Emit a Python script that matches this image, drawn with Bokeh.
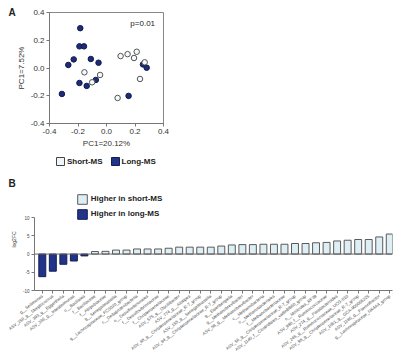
from bokeh.plotting import figure
from bokeh.models import (Legend, LegendItem, Label, Span, Range1d,
                          FixedTicker, NumeralTickFormatter)
from bokeh.embed import file_html
from bokeh.resources import INLINE

FONT = "Liberation Sans"

# ---------------- Panel A data (PCoA) ----------------
long_x = [-0.184, -0.190, -0.158, -0.230, -0.268, -0.110, -0.056, -0.190, -0.075, -0.139, -0.313, 0.155, 0.256, 0.282]
long_y = [0.287, 0.156, 0.156, 0.062, 0.022, 0.065, 0.038, -0.108, -0.086, -0.129, -0.187, -0.201, 0.026, 0.002]
short_x = [-0.155, -0.045, -0.101, 0.099, 0.148, 0.212, 0.193, 0.268, 0.235, 0.078]
short_y = [-0.031, -0.050, -0.103, 0.086, 0.100, 0.117, 0.072, 0.041, -0.079, -0.216]
pca_ticks = [-0.4, -0.2, 0.0, 0.2, 0.4]
groups = ["Short-MS", "Long-MS"]

# ---------------- Panel B data (log2FC) ----------------
taxa = [
    "g__Sellimonas", "ASV_250_g__Streptococcus", "ASV_393_g__Eggerthella",
    "ASV_336_g__Intestinimonas", "o__Bacillales", "f__Bacillaceae", "f__Atopobiaceae",
    "g__Senegalimassilia", "g__Lachnospiraceae_FCS020_group", "c__Deltaproteobacteria",
    "o__Desulfovibrionales", "f__Desulfovibrionaceae", "f__Christensenellaceae",
    "ASV_575_g__Oscillibacter", "ASV_774_g__Alistipes",
    "ASV_88_g__Christensenellaceae_R-7_group", "ASV_155_g__Senegalimassilia",
    "ASV_84_g__Christensenellaceae_R-7_group", "g__Eisenbergiella",
    "g__Methanobrevibacter", "ASV_58_g__Methanobrevibacter", "c__Methanobacteria",
    "o__Methanobacteriales", "f__Methanobacteriaceae",
    "ASV_56_g__Christensenellaceae_R-7_group", "ASV_1140_f__Clostridiales_vadinBB60_group",
    "o__Mollicutes_RF39", "ASV_990_f__Ruminococcaceae", "ASV_274_g__Parabacteroides",
    "ASV_245_g__Ruminococcaceae_UCG-010", "ASV_98_g__Christensenellaceae_R-7_group",
    "ASV_1061_g__GCA-900066225", "ASV_1186_g__Flavonifractor",
    "g__Lachnospiraceae_NK4A4_group",
]
log2fc = [-6.2, -4.7, -2.8, -1.9, -0.5,
          0.7, 0.75, 1.1, 1.1, 1.4, 1.4, 1.4, 1.6, 1.9, 1.9, 1.9, 1.9,
          2.2, 2.5, 2.6, 2.6, 2.7, 2.7, 2.7, 2.9, 2.9, 3.1, 3.2, 3.6, 3.8,
          4.0, 4.0, 4.7, 5.5]
fc_ticks = [-10, -5, 0, 5, 10]

NAVY = "#22348a"
NAVY_LINE = "#141e52"
LIGHT = "#ddeef4"
LIGHT_LINE = "#5a5a5a"
AXIS = "#777777"
TXT = "#333333"


def style_axis(ax, size, color=TXT):
    ax.axis_line_color = AXIS
    ax.major_tick_line_color = AXIS
    ax.major_tick_out = 3
    ax.major_tick_in = 0
    ax.minor_tick_line_color = None
    ax.major_label_text_font = FONT
    ax.major_label_text_font_size = size
    ax.major_label_text_color = color
    ax.major_label_standoff = 2
    ax.axis_label_text_font = FONT
    ax.axis_label_text_font_style = "normal"
    ax.axis_label_text_color = TXT


# ---------------- Panel A ----------------
pa = figure(width=400, height=150, output_backend="svg", toolbar_location=None,
            x_range=Range1d(-0.4, 0.4), y_range=Range1d(-0.4, 0.4),
            min_border_left=49, min_border_right=237, min_border_top=12,
            min_border_bottom=27)
pa.grid.visible = False
pa.outline_line_color = "#888888"
for ax in (pa.xaxis[0], pa.yaxis[0]):
    style_axis(ax, "8px")
    ax.ticker = FixedTicker(ticks=pca_ticks)
    ax.formatter = NumeralTickFormatter(format="0.0")
    ax.axis_label_text_font_size = "8px"
    ax.axis_label_standoff = 2
pa.xaxis.axis_label = "PC1=20.12%"
pa.yaxis.axis_label = "PC1=7.52%"

pa.scatter(long_x, long_y, size=5.5, fill_color="#1d2c78", line_color="#101a4a", line_width=1)
pa.scatter(short_x, short_y, size=5.5, fill_color="#f4f9fb", line_color="#555555", line_width=1)

pa.add_layout(Label(x=0.254, y=0.321, text="p=0.01", text_font=FONT, text_font_size="8px",
                    text_align="center", text_baseline="middle", text_color="#222222"))
pa.add_layout(Label(x=-41, y=0, x_units="screen", y_units="screen", text="A",
                    text_font=FONT, text_font_size="10px", text_font_style="bold",
                    text_baseline="middle", text_align="left", text_color="#222222"),
              "above")

# ---------------- Legend strip for panel A ----------------
pl = figure(width=400, height=26, output_backend="svg", toolbar_location=None,
            x_range=Range1d(0, 1), y_range=Range1d(0, 1),
            x_axis_type=None, y_axis_type=None,
            min_border_left=0, min_border_right=0, min_border_top=0, min_border_bottom=0)
pl.grid.visible = False
pl.outline_line_color = None
# hidden swatch renderers (only used to draw the square legend keys)
la1 = pl.quad(left=[0], right=[1], top=[1], bottom=[0], fill_color="#eef6f9", line_color="#444444")
la2 = pl.quad(left=[0], right=[1], top=[1], bottom=[0], fill_color=NAVY, line_color=NAVY_LINE)
la1.visible = False
la2.visible = False
leg_a = Legend(items=[LegendItem(label=groups[0], renderers=[la1]),
                      LegendItem(label=groups[1], renderers=[la2])],
               orientation="horizontal", location=(55, 10), padding=0, margin=0,
               spacing=7, glyph_width=10, glyph_height=10, label_height=10,
               label_standoff=2, label_text_font=FONT, label_text_font_size="8px",
               label_text_font_style="bold", label_text_color="#222222",
               border_line_color=None, background_fill_alpha=0,
               inactive_fill_alpha=0)
pl.add_layout(leg_a)

# ---------------- Panel B ----------------
pos = list(range(len(taxa)))
neg_x = [i for i, v in zip(pos, log2fc) if v < 0]
neg_v = [v for v in log2fc if v < 0]
pos_x = [i for i, v in zip(pos, log2fc) if v >= 0]
pos_v = [v for v in log2fc if v >= 0]

pb = figure(width=400, height=188, output_backend="svg", toolbar_location=None,
            x_range=Range1d(-0.74, 33.26), y_range=Range1d(-10, 18),
            min_border_left=34, min_border_right=8, min_border_top=12,
            min_border_bottom=74)
pb.grid.visible = False
pb.outline_line_color = None

rb_pos = pb.vbar(x=pos_x, top=pos_v, bottom=0, width=0.66, fill_color=LIGHT,
                 line_color=LIGHT_LINE, line_width=1)
rb_neg = pb.vbar(x=neg_x, top=neg_v, bottom=0, width=0.66, fill_color=NAVY,
                 line_color=NAVY_LINE, line_width=1)
pb.add_layout(Span(location=0, dimension="width", line_color="#666666", line_width=1))

xa = pb.xaxis[0]
style_axis(xa, "4.3px", "#444444")
xa.ticker = FixedTicker(ticks=pos)
xa.major_label_overrides = {i: t for i, t in enumerate(taxa)}
xa.major_label_orientation = 0.66

ya = pb.yaxis[0]
style_axis(ya, "4.5px", "#444444")
ya.ticker = FixedTicker(ticks=fc_ticks)
ya.formatter = NumeralTickFormatter(format="0")
ya.bounds = (-10, 10)
ya.axis_label = "log2FC"
ya.axis_label_text_font_size = "5px"
ya.axis_label_standoff = 3

leg_b = Legend(items=[LegendItem(label="Higher in short-MS", renderers=[rb_pos]),
                      LegendItem(label="Higher in long-MS", renderers=[rb_neg])],
               location=(41.8, 70.4), padding=0, margin=0, spacing=3,
               glyph_width=12, glyph_height=12, label_height=12, label_standoff=3,
               label_text_font=FONT, label_text_font_size="8px",
               label_text_font_style="bold", label_text_color="#222222",
               border_line_color=None, background_fill_alpha=0)
pb.add_layout(leg_b)
pb.add_layout(Label(x=-26, y=5, x_units="screen", y_units="screen", text="B",
                    text_font=FONT, text_font_size="10px", text_font_style="bold",
                    text_baseline="middle", text_align="left", text_color="#222222"),
              "above")

open("out.html", "w").write(file_html([pa, pl, pb], INLINE))
